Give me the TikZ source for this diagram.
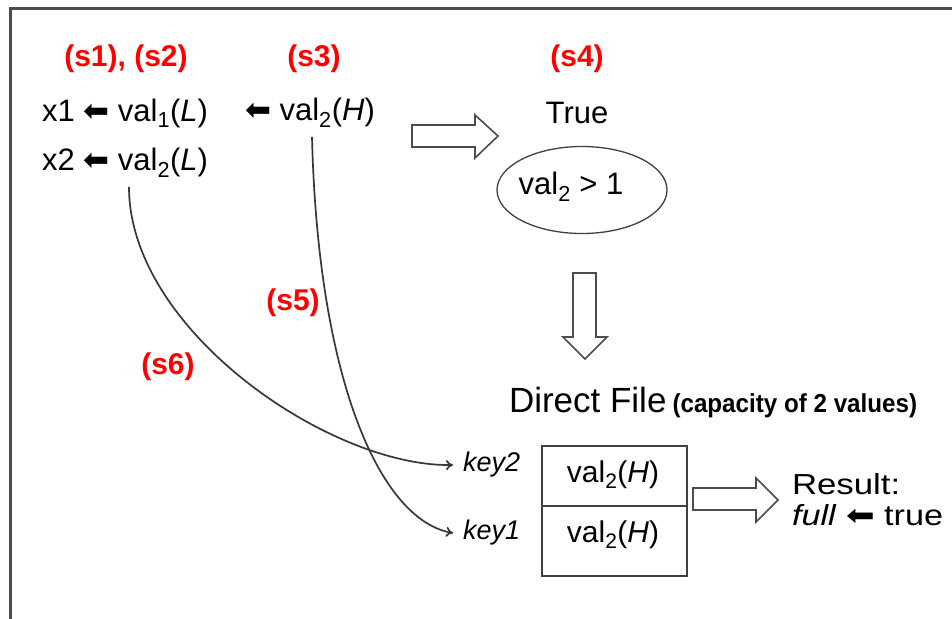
\documentclass[tikz,border=0pt]{standalone}
\usepackage{fontspec}
\setmainfont{Liberation Sans}
\newfontfamily\dejavu{DejaVu Sans}
\usepackage{graphicx}
\usetikzlibrary{shapes.geometric,arrows.meta}
\newcommand{\larr}{{\dejavu\scalebox{1.0}{⬅}}}
\newcommand{\sub}[1]{\textsubscript{#1}}
\begin{document}
\begin{tikzpicture}[x=1pt,y=-1pt,
  every node/.style={inner sep=0pt,outer sep=0pt},
  lbl/.style={text=red,font=\fontsize{30}{34}\selectfont\bfseries},
  txt/.style={font=\fontsize{31}{36}\selectfont},
  boxtxt/.style={font=\fontsize{30}{34}\selectfont},
  keytxt/.style={font=\fontsize{27}{32}\selectfont\itshape},
  hollow/.style={draw=black!70,line width=1.6pt,fill=white},
  conn/.style={draw=black!78,line width=1.7pt,-{To[length=7pt,width=10pt]}},
  frame/.style={draw=black!70,line width=3pt}]
\useasboundingbox (0,0) rectangle (952,618);
\draw[frame] (10,620) -- (10,9) -- (955,9);
% step labels
\node[lbl] (s12) at (126,59) {(s1), (s2)};
\node[lbl] (s3) at (314,59) {(s3)};
\node[lbl] (s4) at (577,59) {(s4)};
\node[lbl] (s5) at (293,303) {(s5)};
\node[lbl] (s6) at (168,367) {(s6)};
% top texts
\node[txt,anchor=west] (l1a) at (42,113) {x1 \larr\ val\sub{1}(\textit{L})};
\node[txt,anchor=west] (l1b) at (245,113) {\larr\ val\sub{2}(\textit{H})};
\node[txt,anchor=west] (l2) at (42,163) {x2 \larr\ val\sub{2}(\textit{L})};
\node[txt] (true) at (577,113) {True};
\node[draw=black!75,line width=1.3pt,ellipse,minimum width=170pt,minimum height=87pt] (ell) at (582,190) {};
\node[txt] (cond) at (571,187) {val\sub{2} > 1};
% hollow arrows
\path[hollow] (412,125) -- (475,125) -- (475,115) -- (498,136) -- (475,158) -- (475,147) -- (412,147) -- cycle;
\path[hollow] (573,273) -- (596,273) -- (596,337) -- (607,337) -- (585,359) -- (563,337) -- (573,337) -- cycle;
\path[hollow] (693,488) -- (756,488) -- (756,478) -- (778,500) -- (756,522) -- (756,510) -- (693,510) -- cycle;
% direct file
\node[anchor=base west,font=\fontsize{35}{40}\selectfont] (df) at (509,412) {Direct File};
\node[anchor=base west,font=\fontsize{26}{30}\selectfont\bfseries] (cap) at ([xshift=6pt]df.base east) {\scalebox{0.93}[1]{(capacity of 2 values)}};
% box
\draw[black!75,line width=1.4pt,fill=white] (542,446) rectangle (687,576);
\draw[black!75,line width=1.4pt] (542,506) -- (687,506);
\draw[black!75,line width=2.4pt] (542,576) -- (687,576);
\node[boxtxt] (v2a) at (613,475) {val\sub{2}(\textit{H})};
\node[boxtxt] (v2b) at (613,535) {val\sub{2}(\textit{H})};
\node[keytxt,anchor=west] (key2) at (463,465) {key2};
\node[keytxt,anchor=west] (key1) at (463,533) {key1};
% result
\node[anchor=west,font=\fontsize{29}{30}\selectfont] (res) at (792,484) {\scalebox{1.2}[1]{Result:}};
\node[anchor=west,font=\fontsize{29}{30}\selectfont] (full) at (792,515) {\scalebox{1.18}[1]{\textit{full} \larr\ true}};
% connectors
\coordinate (c6) at (129,187);
\coordinate (c5) at (312,137);
\draw[conn] (c6) .. controls (129,330) and (330,467) .. ([xshift=-10pt]key2.west);
\draw[conn] (c5) .. controls (318,380) and (380,520) .. ([xshift=-10pt]key1.west);
\end{tikzpicture}
\end{document}
